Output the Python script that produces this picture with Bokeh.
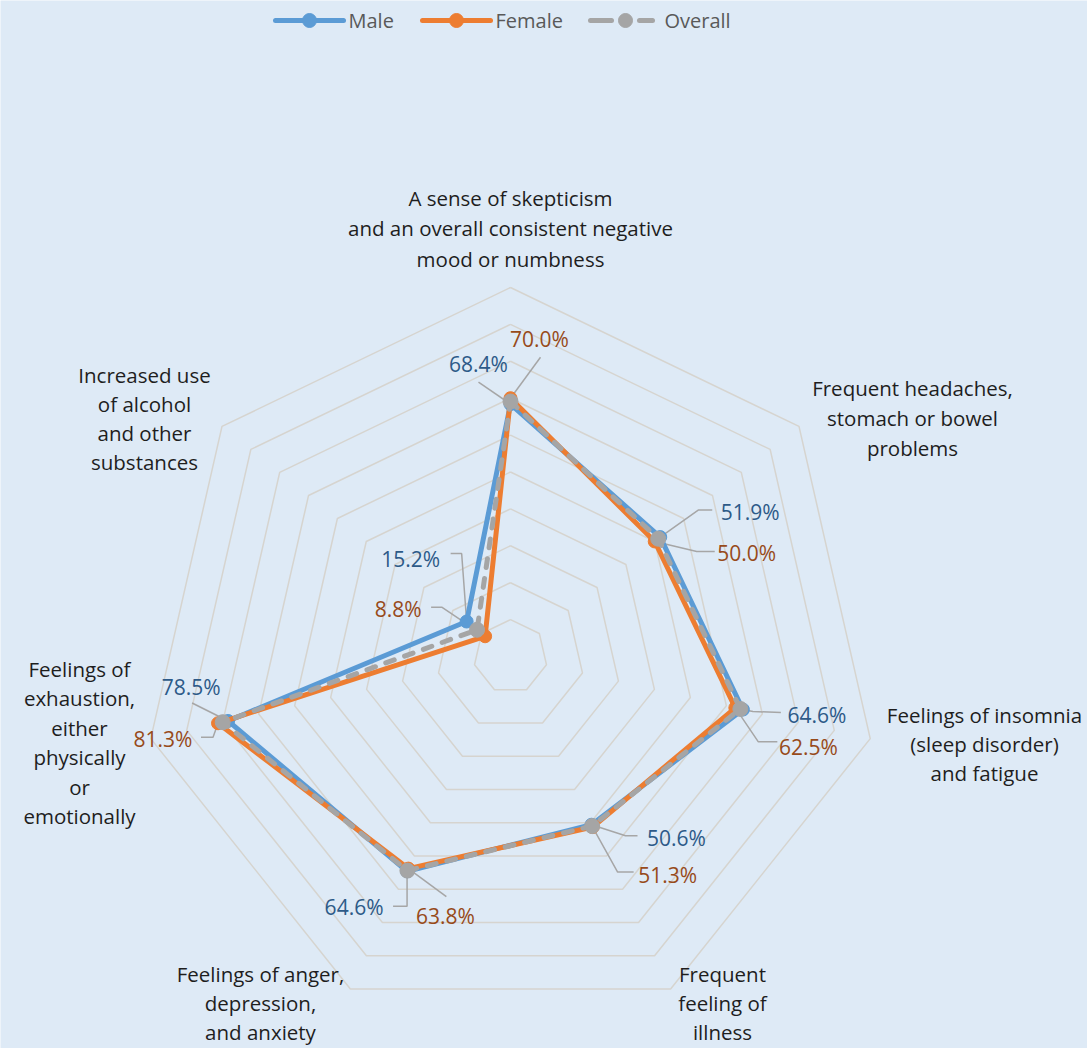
import math
from bokeh.plotting import figure
from bokeh.models import Range1d
from bokeh.core.properties import value
from bokeh.embed import file_html
from bokeh.resources import INLINE

# ---------------- data ----------------
categories = [
    "A sense of skepticism\nand an overall consistent negative\nmood or numbness",
    "Frequent headaches,\nstomach or bowel\nproblems",
    "Feelings of insomnia\n(sleep disorder)\nand fatigue",
    "Frequent\nfeeling of\nillness",
    "Feelings of anger,\ndepression,\nand anxiety",
    "Feelings of\nexhaustion,\neither\nphysically\nor\nemotionally",
    "Increased use\nof alcohol\nand other\nsubstances",
]
male = [68.4, 51.9, 64.6, 50.6, 64.6, 78.5, 15.2]
female = [70.0, 50.0, 62.5, 51.3, 63.8, 81.3, 8.8]
overall = [69.1, 51.2, 63.9, 51.0, 64.4, 80.0, 11.6]
ring_values = [10, 20, 30, 40, 50, 60, 70, 80, 90, 100]
series_names = ["Male", "Female", "Overall"]

# ---------------- layout / style ----------------
BG = "#DEEAF6"
FONT = "Open Sans"
CX, CY, R = 510.0, 656.0, 369.0
N = len(categories)
C_MALE, C_FEMALE, C_OVER = "#5B9BD5", "#ED7D31", "#A5A5A5"
C_MALE_LBL, C_FEMALE_LBL = "#2D5A88", "#974A1A"
C_LEADER = "#A6A6A6"

# category label: (center x, first line y, line height)
cat_pos = [(510, 197, 30.5), (912, 387, 30), (984, 714, 29), (722, 973, 29),
           (260, 973, 29), (79, 668, 29.5), (144, 374, 29.3)]
# data label offsets relative to marker: label (dx,dy), leader start, leader elbow
male_lbl = [((-32, -40), (-32, -22), None), ((90, -25), (52, -27), (38, -27)),
            ((74, 5), (38, 3), (10, 2)), ((85, 13), (46, 11), (34, 11)),
            ((-53, 36), (-14, 35), (0, 35)), ((-37, -34), (-36, -18), None),
            ((-56, -63), (-16, -68), (-5, -68))]
female_lbl = [((29, -59), (30, -41), None), ((92, 12), (60, 10), (42, 10)),
              ((73, 39), (42, 34), (23, 34)), ((75, 48), (41, 45), (25, 45)),
              ((37, 47), (38, 28), None), ((-55, 16), (-17, 14), (-5, 14)),
              ((-87, -27), (-54, -29), (-43, -29))]


def pt(v, i):
    a = 2 * math.pi * i / N
    r = R * v / 100.0
    return CX + r * math.sin(a), CY - r * math.cos(a)


p = figure(width=1087, height=1048, output_backend="svg", toolbar_location=None,
           x_range=Range1d(0, 1087), y_range=Range1d(1048, 0), min_border=0,
           background_fill_color=BG, border_fill_color=BG, outline_line_color=None)
p.axis.visible = False
p.grid.visible = False

# rings
rx, ry = [], []
for rv in ring_values:
    pts = [pt(rv, i) for i in range(N)] + [pt(rv, 0)]
    rx.append([q[0] for q in pts])
    ry.append([q[1] for q in pts])
p.multi_line(rx, ry, line_color="#D6D4CF", line_width=1.5)

# leader lines
for vals, lbls in ((male, male_lbl), (female, female_lbl)):
    for i, (v, (lo, st, el)) in enumerate(zip(vals, lbls)):
        x0, y0 = pt(v, i)
        xs = [x0 + st[0]]
        ys = [y0 + st[1]]
        if el is not None:
            xs.append(x0 + el[0]); ys.append(y0 + el[1])
        xs.append(x0); ys.append(y0)
        p.line(xs, ys, line_color=C_LEADER, line_width=1.5)

# series
for vals, col, lw, dash, msize in ((male, C_MALE, 5, "solid", 13),
                                   (female, C_FEMALE, 5, "solid", 13),
                                   (overall, C_OVER, 5, "9 11", 15)):
    pts = [pt(v, i) for i, v in enumerate(vals)]
    xs = [q[0] for q in pts] + [pts[0][0]]
    ys = [q[1] for q in pts] + [pts[0][1]]
    p.line(xs, ys, line_color=col, line_width=lw, line_dash=dash,
           line_cap="round", line_join="round")
    p.scatter([q[0] for q in pts], [q[1] for q in pts], size=msize,
              fill_color=col, line_color=col, marker="circle")

# data labels
for vals, lbls, col in ((male, male_lbl, C_MALE_LBL), (female, female_lbl, C_FEMALE_LBL)):
    xs, ys, ts = [], [], []
    for i, (v, (lo, st, el)) in enumerate(zip(vals, lbls)):
        x0, y0 = pt(v, i)
        xs.append(x0 + lo[0]); ys.append(y0 + lo[1]); ts.append(f"{v:.1f}%")
    p.text(xs, ys, text=ts, text_color=col, text_font=value(FONT),
           text_font_size="21px", text_align="center", text_baseline="middle")

# category labels
lx, ly, lt = [], [], []
for cat, (cx, cy, lh) in zip(categories, cat_pos):
    for k, line in enumerate(cat.split("\n")):
        lx.append(cx); ly.append(cy + k * lh); lt.append(line)
p.text(lx, ly, text=lt, text_color="#1E1E1E", text_font=value(FONT),
       text_font_size="20.5px", text_align="center", text_baseline="middle")

# legend (manual)
leg = [(275, 343, 309, 348, C_MALE, "solid"), (422, 490, 456, 495, C_FEMALE, "solid"),
       (590, 652, 625, 664, C_OVER, "dash")]
for (x0, x1, xm, xt, col, kind), name in zip(leg, series_names):
    if kind == "solid":
        p.line([x0, x1], [20, 20], line_color=col, line_width=5, line_cap="round")
    else:
        p.line([x0, 611], [20, 20], line_color=col, line_width=5, line_cap="round")
        p.line([639, x1], [20, 20], line_color=col, line_width=5, line_cap="round")
    p.scatter([xm], [20], size=14, fill_color=col, line_color=col, marker="circle")
    p.text([xt], [20], text=[name], text_color="#595959", text_font=value(FONT),
           text_font_size="20px", text_align="left", text_baseline="middle")

html = file_html(p, INLINE)
html = html.replace("<body>", '<body style="background:%s">' % BG, 1)
open("out.html", "w").write(html)
